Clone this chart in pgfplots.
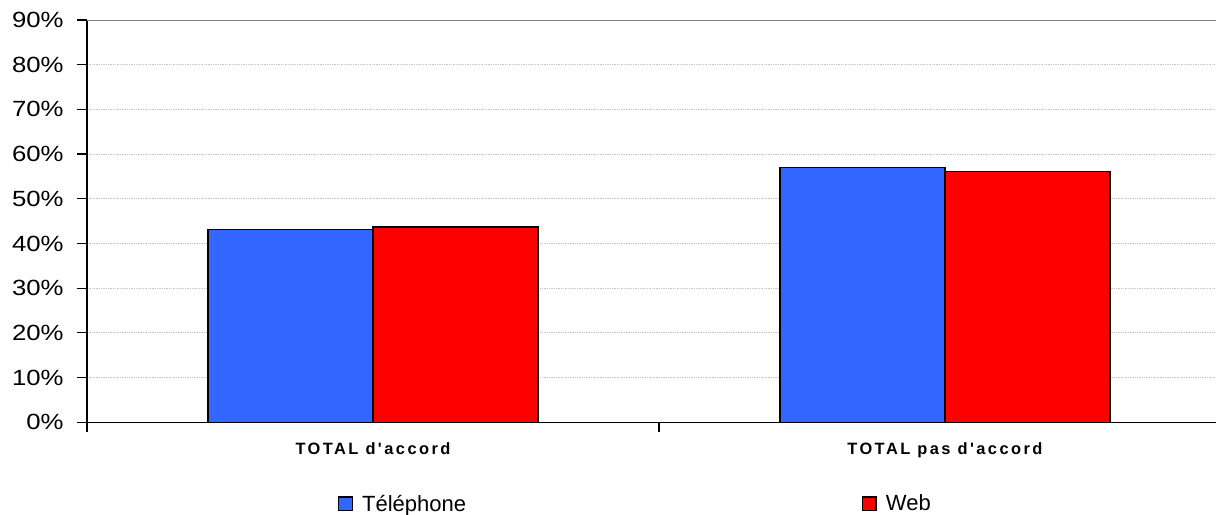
\documentclass[border=0pt]{standalone}
\usepackage{pgfplots}
\pgfplotsset{compat=1.18}
\usepackage{fontspec}
\setmainfont{Liberation Sans}
\newfontfamily\catfont[LetterSpace=15]{Liberation Sans}
\newfontfamily\tickfont[FakeStretch=1.17]{Liberation Sans}
\definecolor{tel}{HTML}{3366FF}
\definecolor{web}{HTML}{FF0000}
\definecolor{gridc}{HTML}{C4C4C4}
\begin{document}
\begin{tikzpicture}
\begin{axis}[
  at={(0pt,0pt)}, anchor=south west,
  scale only axis, width=846.75pt, height=301.7pt,
  xmin=-0.5, xmax=1.474, ymin=0, ymax=90,
  axis x line=bottom, axis y line=left,
  axis line style={-, black, line width=1.1pt},
  ybar=0pt, bar width=0.2885,
  xtick={-0.5,0.5,1.5}, xticklabels={},
  extra x ticks={0,1},
  extra x tick labels={TOTAL d'accord, TOTAL pas d'accord},
  extra x tick style={major tick length=0pt,
    tick label style={font=\catfont\bfseries\fontsize{12.3}{14}\selectfont, yshift=-12pt}},
  ytick={0,10,...,90},
  yticklabel={\pgfmathprintnumber{\tick}\%},
  tick align=outside, major tick length=7.5pt,
  tick style={black, line width=0.9pt},
  ymajorgrids,
  major grid style={gridc, dash pattern=on 1pt off 0.75pt, line width=0.75pt},
  /pgf/number format/assume math mode=true,
  y tick label style={font=\tickfont\fontsize{16.5}{18}\selectfont, xshift=-6.5pt},
  legend columns=2,
  legend style={at={(0.2223,-0.203)}, anchor=west, draw=none, fill=none,
    inner sep=0pt, font=\fontsize{16.5}{18}\selectfont,
    /tikz/every odd column/.append style={column sep=5pt},
    /tikz/every even column/.append style={column sep=295pt}},
  legend image code/.code={\draw[#1, draw=black, line width=0.9pt] (0pt,-5.2pt) rectangle (10pt,5.2pt);},
]
\addplot[fill=tel, draw=black, line width=1pt] coordinates {(0,43.2) (1,57.0)};
\addplot[fill=web, draw=black, line width=1pt] coordinates {(0,43.7) (1,56.1)};
\legend{Téléphone, Web}
\draw[gray, line width=1.5pt] (rel axis cs:0,1) -- (rel axis cs:1,1);
\end{axis}
\pgfresetboundingbox
\path (-65.25pt,-69.5pt) rectangle (846.75pt,316.7pt);
\end{tikzpicture}
\end{document}
